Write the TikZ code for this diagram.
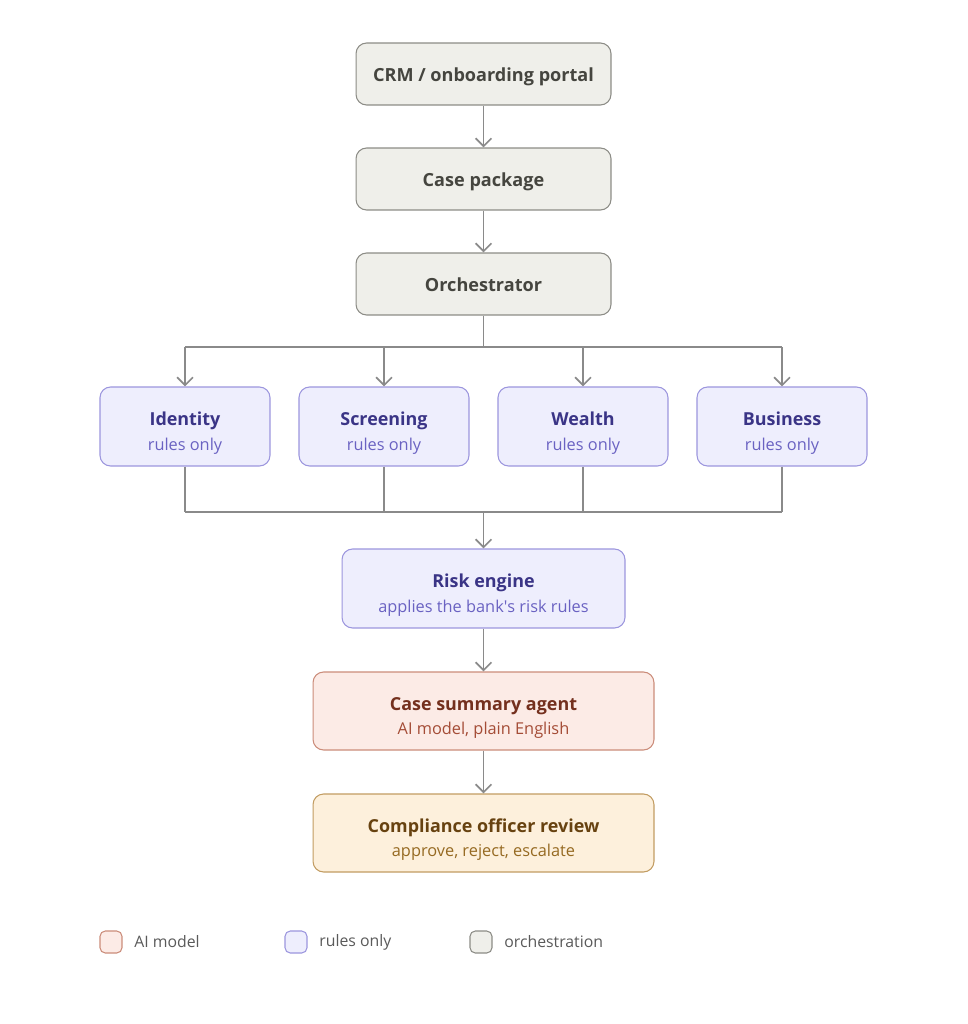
\documentclass[tikz,border=0pt]{standalone}
\usepackage{fontspec}
\setmainfont{Open Sans}
\usepackage{xcolor}
\usetikzlibrary{arrows.meta,positioning,calc}
\definecolor{orchfill}{HTML}{EFEFEA}
\definecolor{orchdraw}{HTML}{8C8C86}
\definecolor{orchtext}{HTML}{45453F}
\definecolor{rulefill}{HTML}{EEEEFD}
\definecolor{ruledraw}{HTML}{9C96DE}
\definecolor{ruletitle}{HTML}{3A3486}
\definecolor{rulesub}{HTML}{6A62C2}
\definecolor{aifill}{HTML}{FCEBE6}
\definecolor{aidraw}{HTML}{CB8C7A}
\definecolor{aititle}{HTML}{74301E}
\definecolor{aisub}{HTML}{A44C36}
\definecolor{revfill}{HTML}{FDF0DC}
\definecolor{revdraw}{HTML}{C29C62}
\definecolor{revtitle}{HTML}{674210}
\definecolor{revsub}{HTML}{966A22}
\definecolor{wire}{HTML}{8A8A8A}
\definecolor{legtext}{HTML}{5A5A5A}
\tikzset{%
	box/.style      = {rectangle, rounded corners=6pt, line width=0.6pt, align=center, inner sep=2pt},
	orch/.style     = {box, fill=orchfill, draw=orchdraw, text=orchtext, minimum width=5.1cm, minimum height=1.24cm, text height=11pt, text depth=2pt, font=\fontsize{10.3}{13}\selectfont\bfseries},
	rule/.style     = {box, fill=rulefill, draw=ruledraw, minimum height=1.58cm},
	ai/.style       = {box, fill=aifill, draw=aidraw, minimum width=6.82cm, minimum height=1.56cm},
	review/.style   = {box, fill=revfill, draw=revdraw, minimum width=6.82cm, minimum height=1.56cm},
	key/.style      = {rectangle, rounded corners=3pt, line width=0.6pt, minimum size=0.44cm, inner sep=0pt},
	keytext/.style  = {right, text=legtext, font=\fontsize{9}{11}\selectfont, inner sep=0pt},
	wire/.style     = {draw=wire, line width=1.1pt},
	arrow/.style    = {wire, -{Straight Barb[length=4.5pt,width=9pt,line width=1pt]}},
}
\newcommand{\ttl}[2]{{\fontsize{10.2}{13}\selectfont\bfseries\color{#1}\rule{0pt}{15.5pt}#2}}
\newcommand{\sbt}[2]{{\fontsize{9.3}{11}\selectfont\color{#1}#2}}
\begin{document}
\begin{tikzpicture}[x=0.02cm,y=-0.02cm]
		\useasboundingbox[fill=white] (0,0) rectangle (967,1024);
		
		\node[orch] (crm) at (483.5,74) {CRM / onboarding portal};
		\node[orch] (pkg) at (483.5,179) {Case package};
		\node[orch] (orc) at (483.5,284) {Orchestrator};
		
		\node[rule, minimum width=3.4cm] (ident) at (185,426.5) {\ttl{ruletitle}{Identity}\\[2pt]\sbt{rulesub}{rules only}};
		\node[rule, minimum width=3.4cm] (scrn) at (384,426.5) {\ttl{ruletitle}{Screening}\\[2pt]\sbt{rulesub}{rules only}};
		\node[rule, minimum width=3.4cm] (wlth) at (583,426.5) {\ttl{ruletitle}{Wealth}\\[2pt]\sbt{rulesub}{rules only}};
		\node[rule, minimum width=3.4cm] (busi) at (782,426.5) {\ttl{ruletitle}{Business}\\[2pt]\sbt{rulesub}{rules only}};
		
		\node[rule, minimum width=5.66cm] (risk) at (483.5,588.5) {\ttl{ruletitle}{Risk engine}\\[2pt]\sbt{rulesub}{applies the bank\textquotesingle s risk rules}};
		\node[ai] (agent) at (483.5,711) {\ttl{aititle}{Case summary agent}\\[2pt]\sbt{aisub}{AI model, plain English}};
		\node[review] (rev) at (483.5,833) {\ttl{revtitle}{Compliance officer review}\\[2pt]\sbt{revsub}{approve, reject, escalate}};
		
		\draw[arrow] (crm) -- (pkg);
		\draw[arrow] (pkg) -- (orc);
		
		% fan out to the four checks
		\coordinate (split) at (483.5,347);
		\draw[wire] (orc.south) -- (split);
		\draw[wire] (split -| ident.north) -- (split -| busi.north);
		\foreach \n in {ident,scrn,wlth,busi} \draw[arrow] (split -| \n.north) -- (\n.north);
		
		% gather into the risk engine
		\coordinate (join) at (483.5,512);
		\foreach \n in {ident,scrn,wlth,busi} \draw[wire] (\n.south) -- (join -| \n.south);
		\draw[wire] (join -| ident.south) -- (join -| busi.south);
		\draw[arrow] (join) -- (risk.north);
		
		\draw[arrow] (risk) -- (agent);
		\draw[arrow] (agent) -- (rev);
		
		% legend
		\node[key, fill=aifill, draw=aidraw] (kai) at (111,942) {};
		\node[keytext] (tai) at (134,942) {AI model};
		\node[key, fill=rulefill, draw=ruledraw] (krule) at (296,942) {};
		\node[keytext] (trule) at (319,942) {rules only};
		\node[key, fill=orchfill, draw=orchdraw] (korch) at (481,942) {};
		\node[keytext] (torch) at (504,942) {orchestration};
\end{tikzpicture}
\end{document}
